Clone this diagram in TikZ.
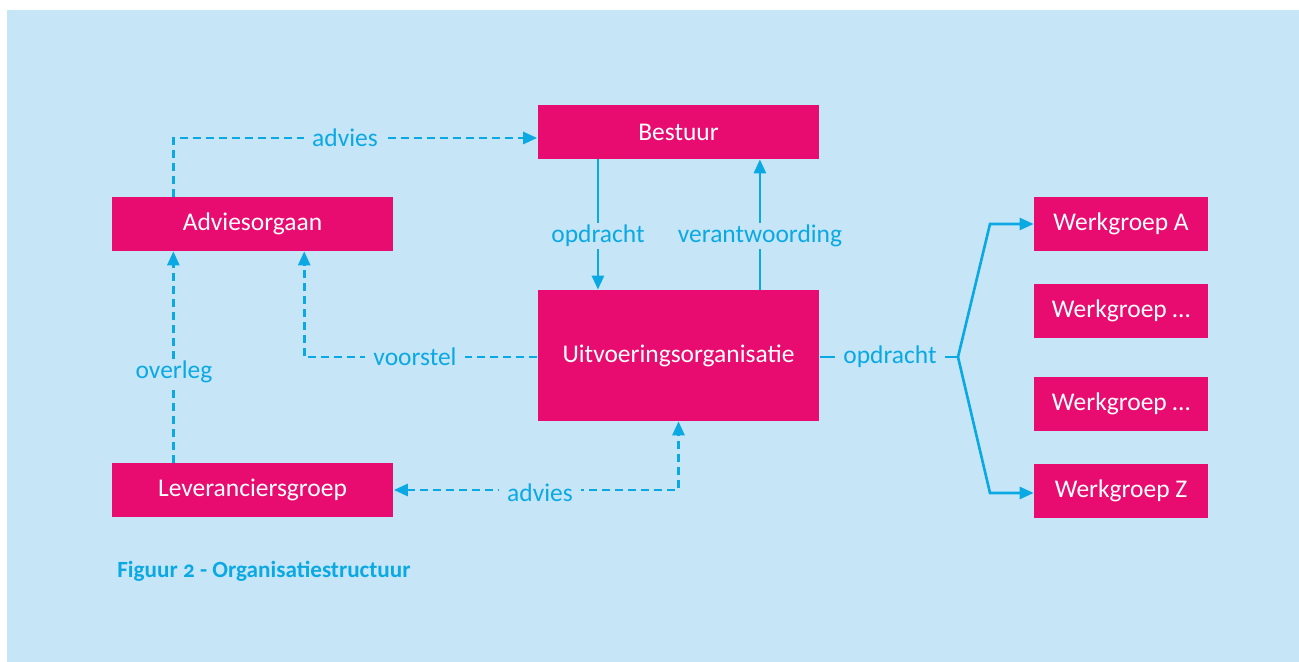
\documentclass[tikz,border=0pt]{standalone}
\usepackage{fontspec}
\setmainfont{Carlito}
\usepackage{xcolor}
\usetikzlibrary{
    arrows.meta,
    calc,
    positioning
}
\definecolor{bgblue}{HTML}{C6E6F7}
\definecolor{orgpink}{HTML}{E80C70}
\definecolor{linkblue}{HTML}{0AA9E4}
\tikzset{
    orgbox/.style={fill=orgpink, text=white, inner sep=0pt, minimum height=1.08cm,
        font=\fontsize{14.5}{17}\selectfont},
    widebox/.style={orgbox, minimum width=5.64cm},
    wgbox/.style={orgbox, minimum width=3.48cm},
    conn/.style={draw=linkblue, line width=1.5pt, -{Triangle[length=0.28cm, width=0.24cm]}},
    dconn/.style={conn, dash pattern=on 0.16cm off 0.1cm},
    lbl/.style={fill=bgblue, text=linkblue, inner xsep=0.17cm, inner ysep=1pt,
        font=\fontsize{14.5}{17}\selectfont}
}

\begin{document}
\begin{tikzpicture}[x=0.02cm, y=-0.02cm]
                                \useasboundingbox (0, 0) rectangle (1299, 662);
                                \fill[bgblue] (7, 10) rectangle (1299, 662);
                                % boxes
                                \node[widebox] (bestuur) at (678.5, 132) {Bestuur};
                                \node[widebox] (adv) at (252.5, 224) {Adviesorgaan};
                                \node[widebox, minimum height=2.62cm] (uitv) at (678.5, 355.5) {Uitvoeringsorganisatie};
                                \node[widebox] (lev) at (252.5, 490) {Leveranciersgroep};
                                \node[wgbox] (wgA) at (1121, 224) {Werkgroep A};
                                \node[wgbox] (wgB) at (1121, 311) {Werkgroep \dots};
                                \node[wgbox] (wgC) at (1121, 404) {Werkgroep \dots};
                                \node[wgbox] (wgZ) at (1121, 491) {Werkgroep Z};
                                % anchor points on the box edges
                                \coordinate (advTop) at ($(adv.north west)!0.22!(adv.north east)$);
                                \coordinate (advBot) at ($(adv.south west)!0.22!(adv.south east)$);
                                \coordinate (advBotR) at ($(adv.south west)!0.683!(adv.south east)$);
                                \coordinate (levTop) at ($(lev.north west)!0.22!(lev.north east)$);
                                \coordinate (besL) at ($(bestuur.south west)!0.215!(bestuur.south east)$);
                                \coordinate (besR) at ($(bestuur.south west)!0.788!(bestuur.south east)$);
                                \coordinate (fork) at (958, 357);
                                % connectors
                                \draw[dconn] (advTop) |- ([yshift=-0.12cm]bestuur.west);
                                \draw[dconn] (levTop) -- (advBot);
                                \draw[dconn] ([yshift=-0.03cm]uitv.west) -| (advBotR);
                                \draw[dconn, {Triangle[length=0.28cm, width=0.24cm]}-{Triangle[length=0.28cm, width=0.24cm]}]
                                (lev.east) -| (uitv.south);
                                \draw[conn] (besL) -- (besL |- uitv.north);
                                \draw[conn] (besR |- uitv.north) -- (besR);
                                \draw[conn, -] (uitv.east |- fork) -- (fork);
                                \draw[conn] (fork) -- (990, 224) -- (wgA.west);
                                \draw[conn] (fork) -- (990, 493) -- (wgZ.west |- 0, 493);
                                % labels
                                \node[lbl] at (345, 138) {advies};
                                \node[lbl] at (174, 372) {overleg};
                                \node[lbl] at (415, 357) {voorstel};
                                \node[lbl] at (540, 493) {advies};
                                \node[lbl] at (598, 236) {opdracht};
                                \node[lbl] at (760, 236) {verantwoording};
                                \node[lbl] at (890, 357) {opdracht};
                                \node[anchor=west, text=linkblue, inner sep=0pt,
                                    font=\bfseries\fontsize{13.2}{16}\selectfont\addfontfeature{Numbers=OldStyle}]
                                (caption) at (117, 571) {Figuur 2 - Organisatiestructuur};
                            \end{tikzpicture}
\end{document}
